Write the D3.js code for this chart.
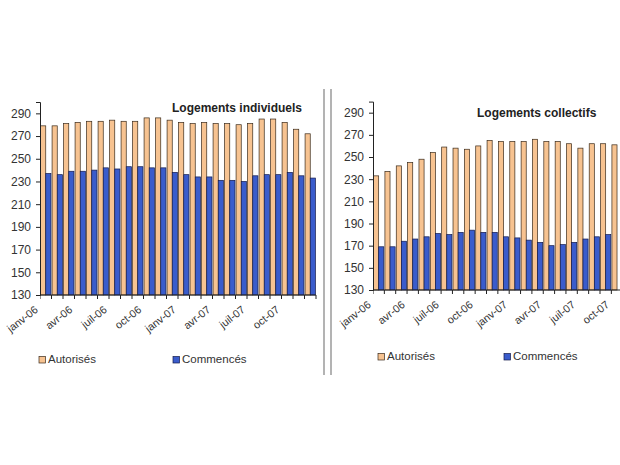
<!DOCTYPE html>
<html><head><meta charset="utf-8">
<script src="https://cdn.jsdelivr.net/npm/d3@7"></script>
<style>
html,body{margin:0;padding:0;background:#fff;}
svg{display:block;font-family:"Liberation Sans",Arial,sans-serif;}
</style></head>
<body>
<svg id="chart" width="620" height="465"></svg>
<script>
const months = ["janv-06","févr-06","mars-06","avr-06","mai-06","juin-06","juil-06","août-06","sept-06","oct-06","nov-06","déc-06",
                "janv-07","févr-07","mars-07","avr-07","mai-07","juin-07","juil-07","août-07","sept-07","oct-07","nov-07","déc-07"];
const tickLabels = ["janv-06","avr-06","juil-06","oct-06","janv-07","avr-07","juil-07","oct-07"];
const yTicks = [130,150,170,190,210,230,250,270,290];
const seriesNames = ["Autorisés","Commencés"];

// Logements individuels
const indivAutorises = [279,279,281,282,283,283,284,283,283,286,286,284,282,281,282,281,281,280,281,285,285,282,276,272];
const indivCommences = [237,236,239,239,240,242,241,243,243,242,242,238,236,234,234,231,231,230,235,236,236,238,235,233];
// Logements collectifs (visible part of the picture)
const collAutorises = [233,237,242,245,248,254,259,258,257,260,265,264,264,264,266,264,264,262,258,262,262,261];
const collCommences = [169,169,174,176,178,181,180,182,184,182,182,178,177,175,173,170,171,173,176,178,180];

const colors = {"Autorisés":"#f7c391","Commencés":"#3a5ccc"};
const strokes = {"Autorisés":"#3a2a1a","Commencés":"#141a4a"};

const svg = d3.select("#chart");

function drawChart(cfg){
  const g = svg.append("g");
  const clipId = "clip" + cfg.id;
  svg.append("clipPath").attr("id", clipId).append("rect")
     .attr("x", cfg.x0).attr("y", 0).attr("width", cfg.clipW).attr("height", 465);

  const y = d3.scaleLinear().domain([130,300]).range([cfg.yBottom, cfg.yTop]);
  const x = d3.scaleBand().domain(months).range([cfg.x0, cfg.x0 + cfg.step*months.length])
      .paddingInner(0.1).paddingOuter(0.05);
  const xs = d3.scaleBand().domain(seriesNames).range([0, x.bandwidth()]);

  const plot = g.append("g").attr("clip-path", "url(#"+clipId+")");
  const data = [
    {name:"Autorisés", values: cfg.aut},
    {name:"Commencés", values: cfg.com}
  ];
  data.forEach(s => {
    plot.selectAll(null).data(s.values).enter().append("rect")
      .attr("x", (d,i) => x(months[i]) + xs(s.name))
      .attr("y", d => y(d))
      .attr("width", xs.bandwidth())
      .attr("height", d => y(130) - y(d))
      .attr("fill", colors[s.name])
      .attr("stroke", strokes[s.name])
      .attr("stroke-width", 0.7);
  });

  // y axis
  const yAxis = d3.axisLeft(y).tickValues(yTicks).tickSize(4).tickPadding(5);
  const ya = g.append("g").attr("transform", `translate(${cfg.x0},0)`).call(yAxis);
  ya.select(".domain").attr("stroke","#222");
  ya.selectAll(".tick line").attr("stroke","#222");
  ya.selectAll(".tick text").attr("font-size", 12).attr("fill","#333")
    .attr("font-family","'Liberation Sans',Arial,sans-serif");

  // x axis line + ticks at category boundaries
  const xEnd = cfg.x0 + cfg.step*months.length;
  const bounds = d3.range(months.length + 1).map(i => cfg.x0 + i*cfg.step);
  const xa = g.append("g").attr("clip-path", "url(#"+clipId+")");
  xa.append("line").attr("x1", cfg.x0).attr("x2", xEnd)
    .attr("y1", cfg.yBottom).attr("y2", cfg.yBottom).attr("stroke","#222");
  xa.selectAll(null).data(bounds).enter().append("line")
    .attr("x1", d => d).attr("x2", d => d)
    .attr("y1", cfg.yBottom).attr("y2", cfg.yBottom + 4).attr("stroke","#222");

  g.selectAll(null).data(tickLabels).enter().append("text")
    .attr("transform", d => {
      const cx = x(d) + x.bandwidth()/2 - 7;
      const cy = cfg.yBottom + 16;
      return `translate(${cx},${cy}) rotate(-38)`;
    })
    .attr("text-anchor","end")
    .attr("font-size", 10.8)
    .attr("fill","#333")
    .text(d => d);

  // title
  g.append("text").attr("x", cfg.titleX).attr("y", cfg.titleY)
    .attr("font-size", 12).attr("font-weight","bold").attr("fill","#222")
    .text(cfg.title);

  // legend
  seriesNames.forEach((n,i) => {
    const lx = cfg.legX[i];
    g.append("rect").attr("x", lx).attr("y", cfg.legY - 6.5).attr("width", 6.5).attr("height", 6.5)
      .attr("fill", colors[n]).attr("stroke", strokes[n]).attr("stroke-width", 0.7);
    g.append("text").attr("x", lx + 9).attr("y", cfg.legY)
      .attr("font-size", 11.5).attr("fill","#333").text(n);
  });
}

drawChart({id:"L", x0:40, step:11.5, yTop:102, yBottom:295, clipW:290,
  aut:indivAutorises, com:indivCommences, title:"Logements individuels",
  titleX:172, titleY:112, legX:[39,173], legY:363});
drawChart({id:"R", x0:373, step:11.35, yTop:101.6, yBottom:290, clipW:260,
  aut:collAutorises, com:collCommences, title:"Logements collectifs",
  titleX:477, titleY:116.5, legX:[378,504], legY:360});

// divider
[324,331].forEach(xx => {
  svg.append("line").attr("x1", xx).attr("x2", xx).attr("y1", 89).attr("y2", 375)
    .attr("stroke","#8a8a8a").attr("stroke-width", 1.3);
});
</script>
</body></html>
